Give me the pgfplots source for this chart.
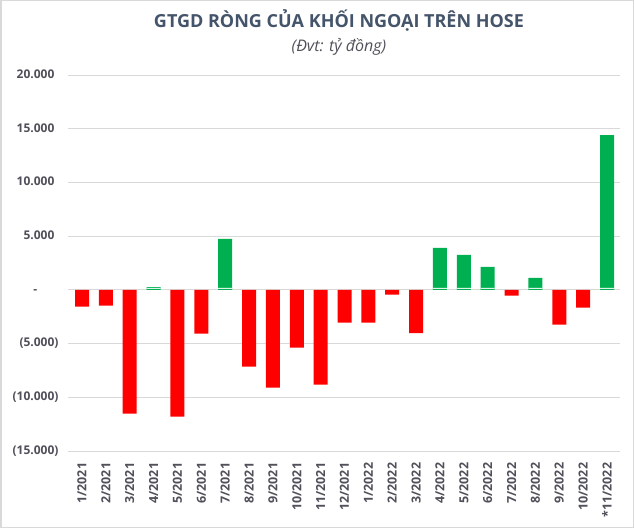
\documentclass[border=0pt]{standalone}
\usepackage{fontspec}
\setmainfont{Open Sans}
\usepackage{pgfplots}
\pgfplotsset{compat=1.18}

\definecolor{barred}{RGB}{255,0,0}
\definecolor{bargreen}{RGB}{0,176,80}
\definecolor{titlegray}{RGB}{68,84,106}
\definecolor{labgray}{RGB}{80,80,90}
\definecolor{gridgray}{RGB}{217,217,217}

\begin{document}
\begin{tikzpicture}[x=1pt,y=1pt]

\draw[gridgray, line width=1.5pt] (0.75,0.75) rectangle (633.25,527.25);

\node[font=\fontsize{18}{20}\selectfont\bfseries, text=titlegray] at (339,508) {GTGD RÒNG CỦA KHỐI NGOẠI TRÊN HOSE};
\node[font=\fontsize{16}{18}\selectfont\itshape, text=labgray] at (339,481) {(Đvt: tỷ đồng)};

\begin{axis}[
    at={(68pt,77pt)}, anchor=south west,
    scale only axis,
    width=552pt, height=376pt,
    ymin=-15000, ymax=20000,
    xmin=-0.587, xmax=22.545,
    scaled y ticks=false,
    ytick={-15000,-10000,...,20000},
    yticklabels={(15.000),(10.000),(5.000),{-\phantom{00.)}},5.000\phantom{)},10.000\phantom{)},15.000\phantom{)},20.000\phantom{)}},
    xtick={0,...,22},
    xticklabels={1/2021,2/2021,3/2021,4/2021,5/2021,6/2021,7/2021,8/2021,9/2021,10/2021,11/2021,12/2021,1/2022,2/2022,3/2022,4/2022,5/2022,6/2022,7/2022,8/2022,9/2022,10/2022,*11/2022},
    x tick label style={rotate=90, anchor=east, font=\fontsize{12.5}{13}\selectfont\bfseries, text=labgray, xshift=-4pt},
    y tick label style={font=\fontsize{12}{13}\selectfont\bfseries, text=labgray, xshift=-6pt},
    ymajorgrids,
    grid style={gridgray, line width=0.8pt},
    axis line style={draw=none},
    tick style={draw=none},
    ybar, bar width=14pt, bar shift=0pt,
    clip=false,
]

\addplot[fill=barred, draw=none] coordinates {
(0,-1550) (1,-1460) (2,-11520) (4,-11800) (5,-4070) (7,-7140)
(8,-9100) (9,-5375) (10,-8820) (11,-3045) (12,-3045) (13,-440)
(14,-4035) (18,-530) (20,-3230) (21,-1650)
};

\addplot[fill=bargreen, draw=none] coordinates {
(3,260) (6,4750) (15,3910) (16,3260) (17,2140) (19,1120) (22,14410)
};

% thin white stripe near the base of the green bars
\addplot[fill=white, draw=none] coordinates {
(3,190) (6,190) (15,190) (16,190) (17,190) (19,190) (22,190)
};
\addplot[fill=bargreen, draw=none] coordinates {
(3,90) (6,90) (15,90) (16,90) (17,90) (19,90) (22,90)
};

\end{axis}
\end{tikzpicture}
\end{document}
